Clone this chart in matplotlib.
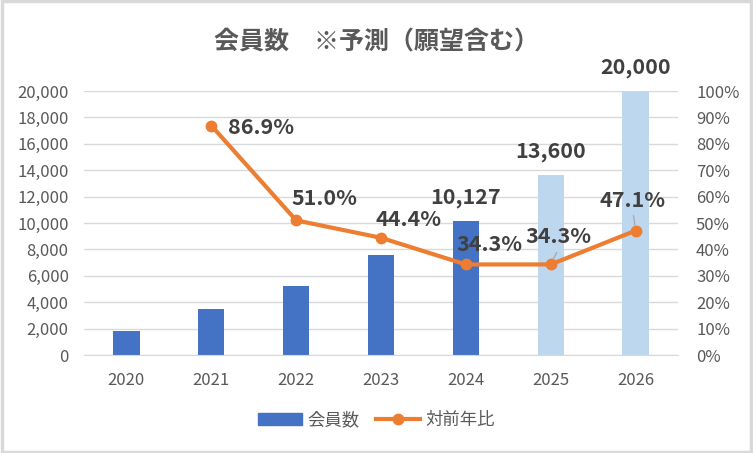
import matplotlib.pyplot as plt
from matplotlib.ticker import FuncFormatter, PercentFormatter
from matplotlib.patches import Rectangle
from matplotlib.lines import Line2D

plt.rcParams['font.family'] = ['Noto Sans CJK JP', 'DejaVu Sans']

years = ['2020', '2021', '2022', '2023', '2024', '2025', '2026']
members = [1850, 3460, 5220, 7540, 10127, 13600, 20000]
growth = [None, 86.9, 51.0, 44.4, 34.3, 34.3, 47.1]
forecast = [False, False, False, False, False, True, True]

dark_blue = '#4472C4'
light_blue = '#BDD7EE'
orange = '#ED7D31'
grid_c = '#D9D9D9'
tick_c = '#595959'
label_c = '#404040'

PX = 0.72  # points per pixel at dpi 100

fig = plt.figure(figsize=(7.53, 4.53), dpi=100)
ax = fig.add_axes([84 / 753, 98 / 453, 594 / 753, 264 / 453])
ax2 = ax.twinx()

x = list(range(len(years)))
colors = [light_blue if f else dark_blue for f in forecast]
ax.bar(x, members, width=0.31, color=colors, zorder=2)
ax.set_ylim(0, 20000)
ax.set_xlim(-0.5, len(years) - 0.5)
ax.set_yticks(range(0, 20001, 2000))
ax.yaxis.set_major_formatter(FuncFormatter(lambda v, p: f'{int(v):,}'))
ax.set_xticks(x)
ax.set_xticklabels(years)
ax.grid(axis='y', color=grid_c, linewidth=1, zorder=0)
ax.set_axisbelow(True)
for s in ['top', 'left', 'right']:
    ax.spines[s].set_visible(False)
ax.spines['bottom'].set_color(grid_c)
ax.tick_params(axis='both', length=0, colors=tick_c, labelsize=12)
ax.tick_params(axis='x', pad=12)
ax.tick_params(axis='y', pad=11)

gx = [i for i, g in zip(x, growth) if g is not None]
gy = [g for g in growth if g is not None]
ax2.plot(gx, gy, color=orange, linewidth=3, marker='o', markersize=7.5, zorder=3)
ax2.set_ylim(0, 100)
ax2.set_yticks(range(0, 101, 10))
ax2.yaxis.set_major_formatter(PercentFormatter(decimals=0))
for s in ['top', 'left', 'right', 'bottom']:
    ax2.spines[s].set_visible(False)
ax2.tick_params(axis='y', length=0, colors=tick_c, labelsize=12, pad=13)

lab = dict(fontsize=15.5, fontweight='bold', color=label_c, ha='center', va='center')

# bar labels (only the last three)
for i in [4, 5, 6]:
    ax.annotate(f'{members[i]:,}', (x[i], members[i]), xytext=(0, 24 * PX),
                textcoords='offset points', **lab)

# growth labels, offsets in pixels from the marker
offs = {1: (50, -2), 2: (28, 22), 3: (28, 18), 4: (24, 20), 5: (8, 28), 6: (-3, 30)}
for i, (dx, dy) in offs.items():
    ax2.annotate(f'{growth[i]:.1f}%', (x[i], growth[i]), xytext=(dx * PX, dy * PX),
                 textcoords='offset points', zorder=4, **lab)

# leader lines
leaders = {5: (6, 12), 6: (-2, 15)}
for i, (dx, dy) in leaders.items():
    ax2.annotate('', (x[i], growth[i]), xytext=(dx * PX, dy * PX), textcoords='offset points',
                 arrowprops=dict(arrowstyle='-', color='#A6A6A6', lw=0.9, shrinkA=0, shrinkB=4))

fig.text(0.5, 1 - 42 / 453, '会員数　※予測（願望含む）', ha='center', va='center',
         fontsize=18, fontweight='bold', color=tick_c)

handles = [Rectangle((0, 0), 1, 1, color=dark_blue),
           Line2D([0], [0], color=orange, lw=3, marker='o', markersize=7.5)]
fig.legend(handles, ['会員数', '対前年比'], loc='center', bbox_to_anchor=(0.5, 1 - 420 / 453),
           ncol=2, frameon=False, fontsize=12.5, labelcolor=tick_c, handlelength=2.5,
           columnspacing=1.0, handletextpad=0.3)

fig.patches.append(Rectangle((0.002, 0.003), 0.996, 0.994, transform=fig.transFigure,
                             fill=False, edgecolor='#D9D9D9', linewidth=2.5))

fig.savefig('out.png', dpi=100)
